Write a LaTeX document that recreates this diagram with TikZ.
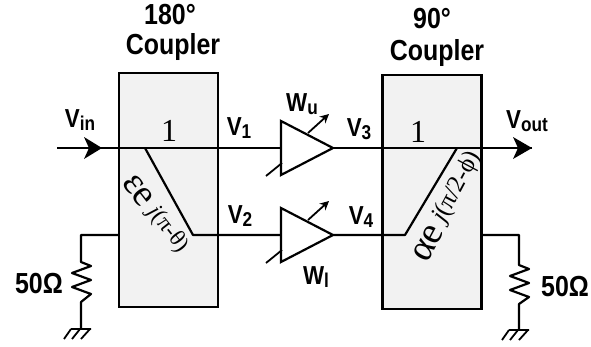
\documentclass[tikz,border=0pt]{standalone}
\usepackage{fontspec}
\usetikzlibrary{arrows.meta}
\setmainfont{Liberation Sans}
\newfontfamily\serifish{Liberation Serif}
\newcommand{\lab}[2]{\fontsize{26}{26}\selectfont\bfseries #1\raisebox{-3pt}{\fontsize{20}{20}\selectfont #2}}
\newcommand{\head}{\fontsize{29}{30}\selectfont\bfseries}
\newcommand{\ohm}{\fontsize{29}{30}\selectfont\bfseries 50Ω}
\newcommand{\one}{\fontsize{32}{32}\selectfont\serifish 1}
\tikzset{
  wire/.style={line width=2.2pt,line join=round},
  thin wire/.style={line width=1.8pt},
  coupler/.style={draw,line width=2.3pt,fill=black!5,minimum width=99pt,minimum height=234pt,inner sep=0pt,outer sep=0pt},
  txt/.style={inner sep=0pt,outer sep=0pt,align=center},
  tall/.style={txt,xscale=.86}
}
\begin{document}
\begin{tikzpicture}[x=1pt,y=-1pt]
\useasboundingbox (0,0) rectangle (591,346);
\node[coupler] (boxA) at (168.5,190) {};
\node[coupler] (boxB) at (432,192) {};
% named points
\coordinate (vin) at (57,148);
\coordinate (tipA) at (102,148);
\coordinate (ampAin) at (281,148);
\coordinate (ampAout) at (333,148);
\coordinate (ampBin) at (281,235);
\coordinate (ampBout) at (333,235);
\coordinate (jA1) at (145,148);
\coordinate (jA2) at (193,235);
\coordinate (jB1) at (457,148);
\coordinate (jB2) at (405,235);
\coordinate (tipB) at (532,148);
\coordinate (rAtop) at (81,235);
\coordinate (rBtop) at (519,235);
\coordinate (boxAw) at (119,235);
\coordinate (boxBe) at (482,235);
% wires
\draw[wire] (vin) -- (ampAin);
\fill (tipA) -- (84,137) -- (89,148) -- (84,159) -- cycle;
\draw[wire] (ampAout) -- (tipB);
\fill (tipB) -- (513,137) -- (518,148) -- (513,159) -- cycle;
\draw[wire] (jA1) -- (jA2) -- (ampBin);
\draw[wire] (ampBout) -- (jB2) -- (jB1);
% amplifiers
\foreach \n/\y in {A/148,B/235}{
  \draw[wire,line join=miter] (281,\y-27) -- (333,\y) -- (281,\y+27) -- cycle;
  \draw[thin wire] (266,\y+28) -- (282,\y+15);
  \draw[thin wire,-{Stealth[length=9pt,width=9pt]}] (308,\y-15) -- (329,\y-34);
}
% left termination
\draw[wire] (boxAw) -- (rAtop) -- (81,262) -- (91,266) -- (72,273) -- (91,280) -- (72,287) -- (91,294) -- (81,302) -- (81,329);
\draw[thin wire] (71,329) -- (91,329) (71,329) -- (64,339) (80,329) -- (72,339) (90,329) -- (81,339);
% right termination
\draw[wire] (boxBe) -- (rBtop) -- (519,265) -- (529,269) -- (510,276) -- (529,283) -- (510,290) -- (529,297) -- (519,304) -- (519,330);
\draw[thin wire] (509,330) -- (529,330) (509,330) -- (502,340) (518,330) -- (510,340) (528,330) -- (519,340);
% texts
\node[tall] (tA1) at (170,15) {\head 180°};
\node[tall] (tA2) at (173,47) {\head Coupler};
\node[tall] (tB1) at (432,19) {\head 90°};
\node[tall] (tB2) at (437,53) {\head Coupler};
\node[tall] (vinL) at (80,120) {\lab{V}{in}};
\node[tall] (v1L) at (239,128) {\lab{V}{1}};
\node[tall] (v2L) at (240,216) {\lab{V}{2}};
\node[tall] (v3L) at (359,129) {\lab{V}{3}};
\node[tall] (v4L) at (361,217) {\lab{V}{4}};
\node[tall] (voutL) at (527,121) {\lab{V}{out}};
\node[tall] (wuL) at (302,104) {\lab{W}{u}};
\node[tall] (wlL) at (316,277) {\lab{W}{l}};
\node[tall] (rA) at (39,284) {\ohm};
\node[tall] (rB) at (565,287) {\ohm};
\node[txt] (oneA) at (169,131) {\one};
\node[txt] (oneB) at (418,132) {\one};
\node[txt,rotate=-52] (gA) at (156,214) {\serifish\fontsize{38}{38}\selectfont εe\,\fontsize{23}{23}\selectfont\raisebox{3pt}{\itshape j\upshape(π-θ)}};
\node[txt,rotate=62] (gB) at (447,206) {\serifish\fontsize{38}{38}\selectfont αe\,\fontsize{25}{25}\selectfont\raisebox{4pt}{\itshape j\upshape(π/2-ϕ)}};
\end{tikzpicture}
\end{document}
